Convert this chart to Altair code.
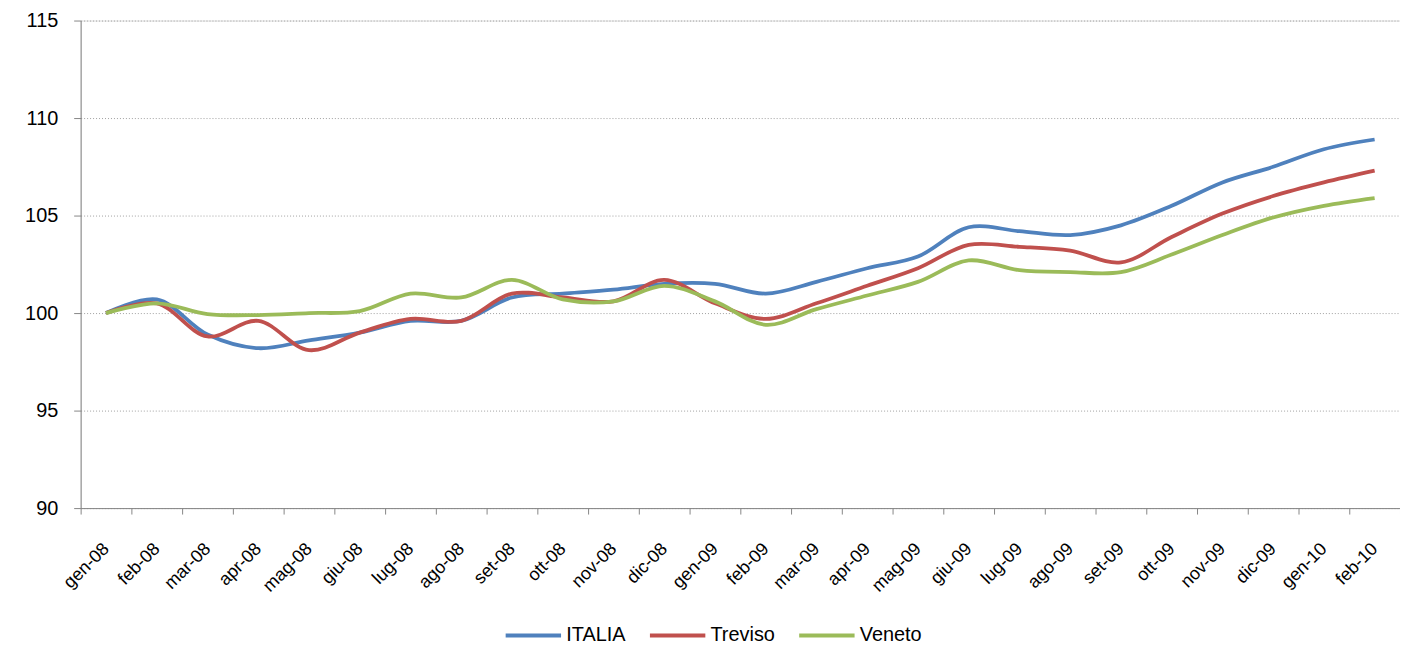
import altair as alt
import pandas as pd

months = ["gen-08", "feb-08", "mar-08", "apr-08", "mag-08", "giu-08", "lug-08", "ago-08",
          "set-08", "ott-08", "nov-08", "dic-08", "gen-09", "feb-09", "mar-09", "apr-09",
          "mag-09", "giu-09", "lug-09", "ago-09", "set-09", "ott-09", "nov-09", "dic-09",
          "gen-10", "feb-10"]

italia = [100.0, 100.7, 98.9, 98.2, 98.6, 99.0, 99.6, 99.6, 100.8, 101.0, 101.2, 101.5, 101.5,
          101.0, 101.6, 102.3, 102.9, 104.4, 104.2, 104.0, 104.5, 105.5, 106.7, 107.5, 108.4, 108.9]
treviso = [100.0, 100.5, 98.8, 99.6, 98.1, 99.0, 99.7, 99.6, 101.0, 100.8, 100.6, 101.7, 100.5,
           99.7, 100.5, 101.4, 102.3, 103.5, 103.4, 103.2, 102.6, 103.9, 105.1, 106.0, 106.7, 107.3]
veneto = [100.0, 100.5, 99.95, 99.9, 100.0, 100.1, 101.0, 100.8, 101.7, 100.7, 100.6, 101.4, 100.6,
          99.4, 100.2, 100.9, 101.6, 102.7, 102.2, 102.1, 102.1, 103.0, 104.0, 104.9, 105.5, 105.9]

series_names = ["ITALIA", "Treviso", "Veneto"]
series_colors = ["#4F81BD", "#C0504D", "#9BBB59"]
y_ticks = [90, 95, 100, 105, 110, 115]

rows = []
for name, vals in zip(series_names, [italia, treviso, veneto]):
    for m, v in zip(months, vals):
        rows.append({"mese": m, "valore": v, "serie": name})
df = pd.DataFrame(rows)

FONT = "Liberation Sans"

chart = alt.Chart(df).mark_line(
    interpolate="catmull-rom", strokeWidth=3.8
).encode(
    x=alt.X(
        "mese:O",
        sort=months,
        bandPosition=0.5,
        scale=alt.Scale(type="band", paddingInner=0, paddingOuter=0),
        axis=alt.Axis(
            title=None,
            labelAngle=315,
            labelAlign="right",
            labelBaseline="middle",
            labelFontSize=18,
            labelFont=FONT,
            labelColor="#000000",
            labelPadding=32,
            tickBand="extent",
            tickSize=6,
            tickColor="#868686",
            domainColor="#868686",
            grid=False,
        ),
    ),
    y=alt.Y(
        "valore:Q",
        scale=alt.Scale(domain=[90, 115], nice=False, zero=False),
        axis=alt.Axis(
            title=None,
            values=y_ticks,
            labelFontSize=20,
            labelFont=FONT,
            labelColor="#000000",
            labelPadding=16,
            tickSize=7,
            tickColor="#868686",
            domainColor="#868686",
            grid=True,
            gridColor="#A0A0A0",
            gridDash=[1, 2],
            gridWidth=1,
        ),
    ),
    color=alt.Color(
        "serie:N",
        scale=alt.Scale(domain=series_names, range=series_colors),
        legend=alt.Legend(
            title=None,
            orient="none",
            direction="horizontal",
            legendX=425,
            legendY=588,
            symbolType="stroke",
            symbolSize=3100,
            symbolStrokeWidth=4,
            labelFontSize=20,
            labelFont=FONT,
            labelColor="#000000",
            labelOffset=3,
            columnPadding=16,
        ),
    ),
).properties(
    width=1326,
    height=490,
    autosize=alt.AutoSizeParams(type="none"),
    padding={"left": 73, "top": 11, "right": 0, "bottom": 138},
).configure_view(stroke=None).configure(background="white")

chart.save("out.html", embed_options={"renderer": "svg", "actions": False})
